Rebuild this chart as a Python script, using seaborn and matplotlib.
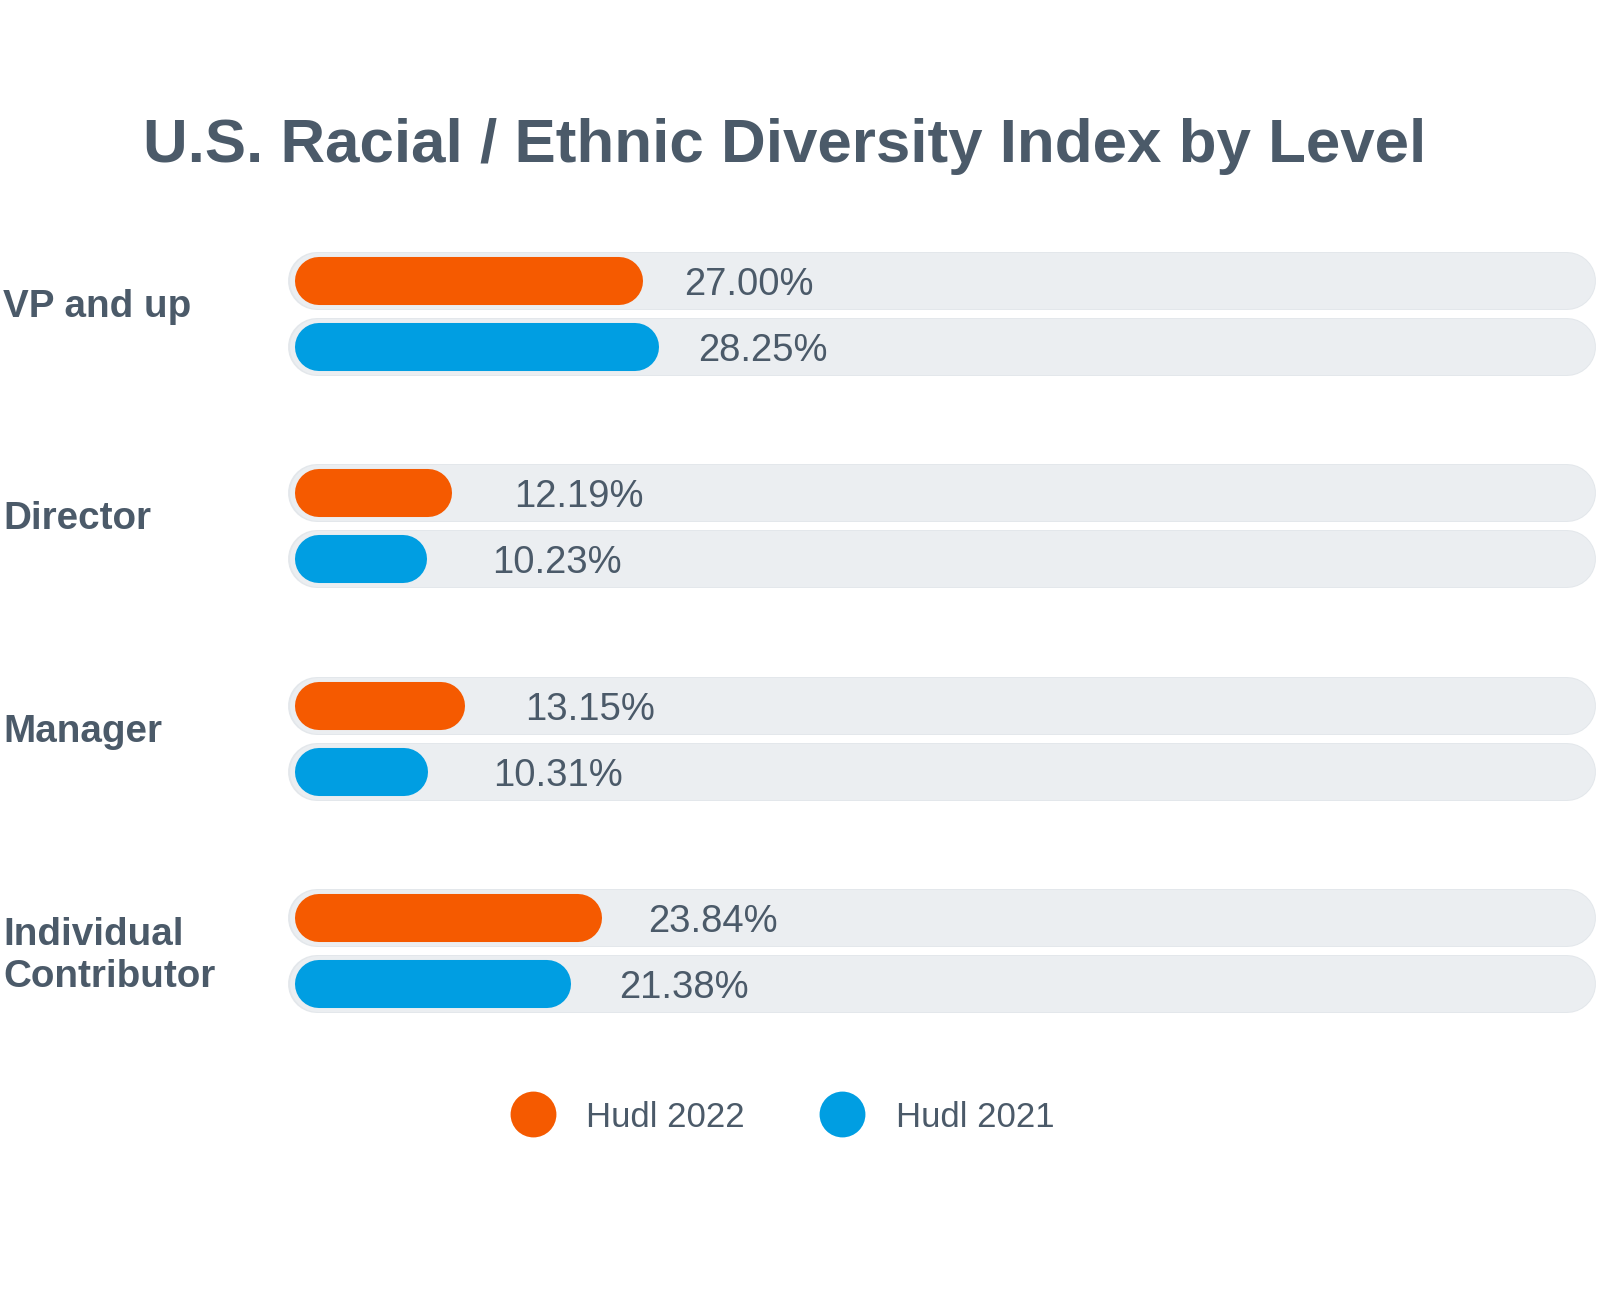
import pandas as pd
import matplotlib.pyplot as plt
import seaborn as sns
import matplotlib.transforms as mtransforms
from matplotlib.lines import Line2D

# データ
title = "U.S. Racial / Ethnic Diversity Index by Level"
levels = ['VP and up', 'Director', 'Manager', 'Individual\nContributor']
years = ['Hudl 2022', 'Hudl 2021']
hudl_2022 = [27.00, 12.19, 13.15, 23.84]
hudl_2021 = [28.25, 10.23, 10.31, 21.38]

df = pd.DataFrame({
    'level': levels * 2,
    'year': [years[0]] * len(levels) + [years[1]] * len(levels),
    'value': hudl_2022 + hudl_2021,
})

orange = '#F55A00'
blue = '#009EE2'
track_col = '#EBEEF1'
text_col = '#4B5A69'

sns.set_theme(style='white')
plt.rcParams['font.family'] = ['Liberation Sans', 'DejaVu Sans']

W, H = 1600, 1296
fig = plt.figure(figsize=(W / 100, H / 100), dpi=100)
ax = fig.add_axes([288 / W, 1 - 1040 / H, (W - 288) / W, 810 / H])

sns.barplot(data=df, y='level', x='value', hue='year', orient='h', saturation=1,
            palette=[orange, blue], width=0.62, gap=0.27, ax=ax, legend=False)
ax.set_xlim(-0.54, 101.16)
ax.set_ylim(3.419, -0.396)
ax.axis('off')

# ピクセル換算
px_x = ax.bbox.width / (101.16 + 0.54)
px_y = ax.bbox.height / (3.419 + 0.396)

# 角丸バー（丸キャップの線）+ 背景トラック
bars = list(ax.patches)
for p in bars:
    x0, y0, w, h = p.get_x(), p.get_y(), p.get_width(), p.get_height()
    cy = y0 + h / 2
    fc = p.get_facecolor()
    p.remove()

    h_px = abs(h) * px_y
    # トラック
    t_px = 56
    rt = t_px / 2 / px_x
    ax.plot([-0.5 + rt, 100.8 - rt], [cy, cy], color='#E3E7EB',
            lw=(t_px + 2) * 0.72, solid_capstyle='round', zorder=1)
    ax.plot([-0.4 + rt, 100.8 - rt], [cy, cy], color=track_col,
            lw=t_px * 0.72, solid_capstyle='round', zorder=1.5)
    # バー
    rb = h_px / 2 / px_x
    ax.plot([x0 + rb, x0 + w - rb], [cy, cy], color=fc,
            lw=h_px * 0.72, solid_capstyle='round', zorder=2)
    ax.text(0.887 * w + 6.2, cy, f"{w:.2f}%", ha='left', va='center_baseline',
            fontsize=27.5, color=text_col, zorder=3)

# カテゴリラベル
trans = mtransforms.blended_transform_factory(fig.transFigure, ax.transData)
for i, lab in enumerate(levels):
    dy = -7 if '\n' not in lab else 5
    ax.text(3 / W, i + dy / px_y, lab, transform=trans, ha='left', va='center',
            fontsize=27.8, fontweight='bold', color=text_col, linespacing=1.2)

fig.text(0.4906, 1 - 162 / H, title, ha='center', va='baseline', fontsize=44.6,
         fontweight='bold', color=text_col)

handles = [Line2D([], [], marker='o', ls='', ms=33, mfc=c, mec='none', label=y)
           for c, y in zip([orange, blue], years)]
fig.legend(handles=handles, loc='center', bbox_to_anchor=(0.489, 0.138), ncol=2,
           frameon=False, fontsize=25, handlelength=1.3, handletextpad=0.9,
           columnspacing=2.15, labelcolor=text_col)

fig.savefig('out.png', dpi=100)
